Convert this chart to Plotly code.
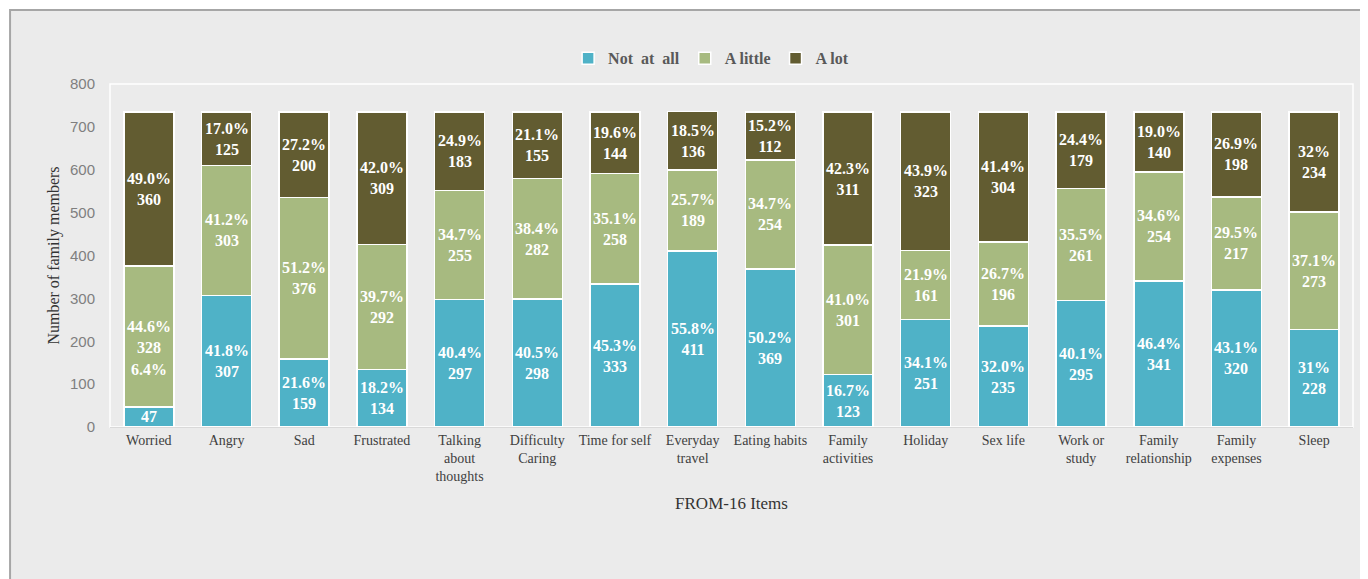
import plotly.graph_objects as go

categories = ["Worried", "Angry", "Sad", "Frustrated", "Talking<br>about<br>thoughts",
              "Difficulty<br>Caring", "Time for self", "Everyday<br>travel", "Eating habits",
              "Family<br>activities", "Holiday", "Sex life", "Work or<br>study",
              "Family<br>relationship", "Family<br>expenses", "Sleep"]

not_at_all = [47, 307, 159, 134, 297, 298, 333, 411, 369, 123, 251, 235, 295, 341, 320, 228]
a_little = [328, 303, 376, 292, 255, 282, 258, 189, 254, 301, 161, 196, 261, 254, 217, 273]
a_lot = [360, 125, 200, 309, 183, 155, 144, 136, 112, 311, 323, 304, 179, 140, 198, 234]

pct_not = ["6.4%", "41.8%", "21.6%", "18.2%", "40.4%", "40.5%", "45.3%", "55.8%", "50.2%",
           "16.7%", "34.1%", "32.0%", "40.1%", "46.4%", "43.1%", "31%"]
pct_little = ["44.6%", "41.2%", "51.2%", "39.7%", "34.7%", "38.4%", "35.1%", "25.7%", "34.7%",
              "41.0%", "21.9%", "26.7%", "35.5%", "34.6%", "29.5%", "37.1%"]
pct_lot = ["49.0%", "17.0%", "27.2%", "42.0%", "24.9%", "21.1%", "19.6%", "18.5%", "15.2%",
           "42.3%", "43.9%", "41.4%", "24.4%", "19.0%", "26.9%", "32%"]

y_ticks = [0, 100, 200, 300, 400, 500, 600, 700, 800]

series = [
    ("<b>Not&nbsp; at&nbsp; all</b>", not_at_all, pct_not, "#4fb2c7"),
    ("<b>A little</b>", a_little, pct_little, "#a7ba80"),
    ("<b>A lot</b>", a_lot, pct_lot, "#625c31"),
]

SERIF = "Liberation Serif, Times New Roman, serif"

fig = go.Figure()
for name, vals, pcts, color in series:
    fig.add_trace(go.Bar(
        x=categories, y=vals, name=name,
        marker=dict(color=color, line=dict(color="white", width=1.5)),
        hoverinfo="skip",
    ))

# data labels as annotations, centered in each stacked segment
annotations = []
base = [0] * len(categories)
for si, (name, vals, pcts, color) in enumerate(series):
    for i, cat in enumerate(categories):
        mid = base[i] + vals[i] / 2
        if si == 0 and i == 0:
            annotations.append(dict(x=cat, y=mid, text=f"<b>{vals[i]}</b>", showarrow=False,
                                    font=dict(family=SERIF, size=16, color="white")))
            annotations.append(dict(x=cat, y=base[i] + vals[i], text=f"<b>{pcts[i]}</b>",
                                    showarrow=False, yanchor="middle", yshift=37,
                                    font=dict(family=SERIF, size=16, color="white")))
        else:
            annotations.append(dict(x=cat, y=mid, text=f"<b>{pcts[i]}<br>{vals[i]}</b>",
                                    showarrow=False,
                                    font=dict(family=SERIF, size=16, color="white")))
        base[i] += vals[i]

fig.update_layout(
    barmode="stack",
    bargap=0.357,
    width=1360, height=571,
    margin=dict(l=102, r=15, t=76, b=152, autoexpand=False),
    paper_bgcolor="white",
    plot_bgcolor="rgba(0,0,0,0)",
    annotations=annotations,
    showlegend=True,
    legend=dict(orientation="h", xref="container", yref="container", traceorder="normal",
                x=0.517, xanchor="center", y=0.912, yanchor="middle",
                font=dict(family=SERIF, size=16, color="#595959"),
                bgcolor="rgba(0,0,0,0)", itemclick=False),
    shapes=[
        dict(type="rect", xref="paper", yref="paper", x0=-0.0804, x1=1.05, y0=-0.6, y1=1.2157,
             fillcolor="#ebebeb", line=dict(color="#a6a6a6", width=2), layer="below"),
        dict(type="rect", xref="paper", yref="paper", x0=0, x1=1, y0=0, y1=1,
             fillcolor="rgba(0,0,0,0)", line=dict(color="white", width=1.5), layer="below"),
    ],
    xaxis=dict(
        automargin=False,
        tickfont=dict(family=SERIF, size=14, color="#404040"),
        showline=True, linecolor="#d9d9d9", linewidth=1,
        ticks="", showgrid=False,
        title=dict(text="FROM-16 Items", font=dict(family=SERIF, size=17, color="#333333"),
                   standoff=13),
    ),
    yaxis=dict(
        automargin=False,
        range=[0, 800], tickvals=y_ticks,
        tickfont=dict(family="Liberation Sans, Arial, sans-serif", size=15, color="#7f7f7f"),
        showgrid=False, zeroline=False, showline=False, ticks="",
        ticklabelstandoff=14,
        title=dict(text="Number of family members",
                   font=dict(family=SERIF, size=16, color="#333333"), standoff=6),
    ),
)

fig.write_html("out.html")
